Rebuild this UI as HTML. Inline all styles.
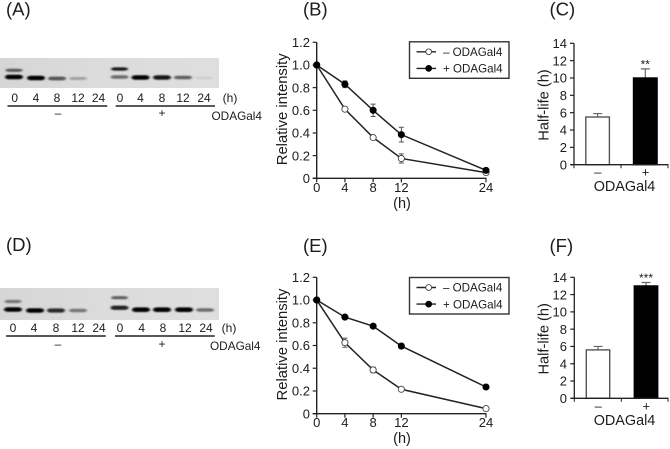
<!DOCTYPE html>
<html lang="en">
<head>
<meta charset="utf-8">
<title>ODAGal4 half-life figure</title>
<style>
html,body{margin:0;padding:0;background:#fff;width:670px;height:449px;overflow:hidden}
svg{display:block;position:absolute;left:0;top:0}
text{font-family:"Liberation Sans",Arial,sans-serif;fill:#1c1c1c}
</style>
</head>
<body>
<svg id="fig" xmlns="http://www.w3.org/2000/svg" width="670" height="449" viewBox="0 0 670 449">
<defs>
<filter id="bl" x="-30%" y="-150%" width="160%" height="400%"><feGaussianBlur stdDeviation="1.0 0.8"/></filter>
<linearGradient id="blotbg" x1="0" x2="1" y1="0" y2="0"><stop offset="0" stop-color="#d6d6d6"/><stop offset="0.5" stop-color="#dcdcdc"/><stop offset="1" stop-color="#dedede"/></linearGradient>
</defs>
</svg>
<script>
// ---- chart data ----
const hours = [0, 4, 8, 12, 24];
const intensityTicks = [0, 0.2, 0.4, 0.6, 0.8, 1.0, 1.2];
const halfLifeTicks = [0, 2, 4, 6, 8, 10, 12, 14];
const seriesLabels = ['– ODAGal4', '+ ODAGal4'];
const bMinus = [1, 0.61, 0.36, 0.175, 0.05];
const bMinusErr = [0, 0.015, 0.015, 0.04, 0.012];
const bPlus = [1, 0.83, 0.60, 0.385, 0.07];
const bPlusErr = [0, 0.03, 0.055, 0.065, 0.012];
const eMinus = [1, 0.625, 0.385, 0.215, 0.045];
const eMinusErr = [0, 0.04, 0.025, 0.01, 0.005];
const ePlus = [1, 0.85, 0.77, 0.595, 0.235];
const ePlusErr = [0, 0.01, 0.01, 0.01, 0.01];
const barCategories = ['–', '+'];
const cHalfLife = [5.5, 10];
const cHalfLifeErr = [0.4, 1.05];
const fHalfLife = [5.6, 13];
const fHalfLifeErr = [0.4, 0.4];
// blot band darkness per lane (0 = none, 1 = black)
const aUpperBand = [0.6, 0, 0, 0, 0, 0.9, 0, 0, 0, 0];
const aLowerBand = [1, 1, 0.6, 0.25, 0, 0.5, 1, 0.9, 0.55, 0.04];
const dUpperBand = [0.45, 0, 0, 0, 0, 0.55, 0, 0, 0, 0];
const dLowerBand = [1, 1, 0.8, 0.45, 0, 0.85, 1, 1, 1, 0.5];

const svg = document.getElementById('fig');
const NS = 'http://www.w3.org/2000/svg';
function el(tag, attrs, parent) {
  const n = document.createElementNS(NS, tag);
  for (const k in attrs) n.setAttribute(k, attrs[k]);
  (parent || svg).appendChild(n);
  return n;
}
function tx(str, x, y, size, anchor, parent) {
  const t = el('text', {x: x, y: y, 'font-size': size, 'text-anchor': anchor || 'middle'}, parent);
  t.textContent = str;
  return t;
}
function ln(x1, y1, x2, y2, w, col, parent) {
  return el('line', {x1: x1, y1: y1, x2: x2, y2: y2, stroke: col || '#222', 'stroke-width': w || 1.2}, parent);
}

function panelLabel(str, x, y) {
  const t = tx(str, x, y, 18.5, 'start');
  
  
}

function blot(opts) {
  const g = el('g', {});
  
  
  const bg = el('rect', {x: 0, y: opts.top, width: 219, height: opts.h, fill: 'url(#blotbg)'}, g);
  
  
  opts.lower.forEach(function (v, i) {
    const cx = opts.laneX[i];
    if (v > 0) {
      const c = Math.round(215 - 215 * v);
      const th = 2.4 + 2.2 * v;
      const b = el('rect', {x: cx - 9, y: opts.lowerY[i] - th / 2, width: 18, height: th, rx: 4, ry: th / 2, fill: 'rgb(' + c + ',' + c + ',' + c + ')', filter: 'url(#bl)'}, g);
      
      
    }
    const u = opts.upper[i];
    if (u > 0) {
      const c2 = Math.round(215 - 215 * u);
      const th2 = 3.2;
      const b2 = el('rect', {x: cx - 8.5, y: opts.upperY[i] - th2 / 2, width: 17, height: th2, rx: 4, ry: th2 / 2, fill: 'rgb(' + c2 + ',' + c2 + ',' + c2 + ')', filter: 'url(#bl)'}, g);
      
      
    }
    const lab = tx(String(hours[i % 5]), opts.labelX[i], opts.labelY, 12, 'middle', g);
    
    
  });
  const h = tx('(h)', opts.hX, opts.labelY, 12, 'middle', g);
  
  
  const l1 = ln(opts.line1[0], opts.lineY, opts.line1[1], opts.lineY, 1.5, '#222', g);
  
  
  const l2 = ln(opts.line2[0], opts.lineY, opts.line2[1], opts.lineY, 1.5, '#222', g);
  
  
  const m = tx('–', 58, opts.signY, 12, 'middle', g);
  
  
  const p = tx('+', 162, opts.signY, 12, 'middle', g);
  
  
  const o = tx('ODAGal4', opts.odaX, opts.odaY, 11.8, 'start', g);
  
  
}

function lineChart(o) {
  const g = el('g', {});
  
  
  const X = function (v) { return 316.7 + v * (486 - 316.7) / 24; };
  const Y = function (v) { return o.y0 + v * (o.y12 - o.y0) / 1.2; };
  const yAxis = ln(X(0), Y(1.2), X(0), o.y0, 1.4, '#222', g);
  
  
  const xAxis = ln(X(0) - 4, o.y0, X(24) + 0.5, o.y0, 1.4, '#222', g);
  
  
  intensityTicks.forEach(function (v) {
    const t = ln(X(0) - 4, Y(v), X(0), Y(v), 1.2, '#222', g);
    
    
    const s = tx(v === 0 ? '0' : v.toFixed(1), 310, Y(v) + 4.7, 13, 'end', g);
    
    
  });
  hours.forEach(function (v) {
    const t = ln(X(v), o.y0, X(v), o.y0 + 4, 1.2, '#222', g);
    
    
    const s = tx(String(v), X(v), o.y0 + 13.5, 13, 'middle', g);
    
    
  });
  const xt = tx('(h)', 402, o.y0 + 29.5, 14.5, 'middle', g);
  
  
  const ytY = Y(0.6) - 1;
  const yt = tx('Relative intensity', 287, ytY, 14.8, 'middle', g);
  yt.setAttribute('transform', 'rotate(-90 287 ' + ytY + ')');
  
  

  function series(vals, errs, fill, nm) {
    const sg = el('g', {}, g);
    
    
    const pts = vals.map(function (v, i) { return X(hours[i]) + ',' + Y(v); }).join(' ');
    const pl = el('polyline', {points: pts, fill: 'none', stroke: '#222', 'stroke-width': 1.5}, sg);
    
    
    vals.forEach(function (v, i) {
      const e = errs[i];
      if (e > 0) {
        const eb = el('path', {d: 'M' + (X(hours[i]) - 2.5) + ' ' + Y(v + e) + 'h5M' + X(hours[i]) + ' ' + Y(v + e) + 'V' + Y(v - e) + 'M' + (X(hours[i]) - 2.5) + ' ' + Y(v - e) + 'h5', stroke: '#555', 'stroke-width': 1, fill: 'none'}, sg);
        
        
      }
      const c = el('circle', {cx: X(hours[i]), cy: Y(v), r: 3.1, fill: fill, stroke: fill === '#000' ? '#000' : '#444', 'stroke-width': 0.9}, sg);
      
      
    });
  }
  series(o.minus, o.minusErr, '#fff', 'series-minus-odagal4');
  series(o.plus, o.plusErr, '#000', 'series-plus-odagal4');

  const lg = el('g', {}, g);
  
  
  const box = el('rect', {x: 409.5, y: o.legTop, width: 99.5, height: 36.5, fill: '#fff', stroke: '#333', 'stroke-width': 1.4}, lg);
  
  
  [0, 1].forEach(function (i) {
    const yy = o.legTop + 10 + i * 16.6;
    const ll = ln(416.5, yy, 436, yy, 1.4, '#222', lg);
    
    
    const lc = el('circle', {cx: 428.7, cy: yy, r: 2.9, fill: i ? '#000' : '#fff', stroke: i ? '#000' : '#444', 'stroke-width': 0.9}, lg);
    
    
    const lt = tx(seriesLabels[i], 443, yy + 4.2, 11.6, 'start', lg);
    
    
  });
}

function barChart(o) {
  const g = el('g', {});
  
  
  const Y = function (v) { return o.y0 + v * (o.y14 - o.y0) / 14; };
  const band = [o.bx[0] + o.bw / 2, o.bx[1] + o.bw / 2];
  o.vals.forEach(function (v, i) {
    const e = o.errs[i];
    const eb = el('path', {d: 'M' + band[i] + ' ' + Y(v) + 'V' + Y(v + e) + 'M' + (band[i] - 4.5) + ' ' + Y(v + e) + 'h9', stroke: '#666', 'stroke-width': 1.2, fill: 'none'}, g);
    
    
    const b = el('rect', {x: o.bx[i], y: Y(v), width: o.bw, height: o.y0 - Y(v), fill: i ? '#000' : '#fff', stroke: i ? '#000' : '#555', 'stroke-width': 1.4}, g);
    
    
    const s = tx(barCategories[i], band[i] + 0.3, o.y0 + 12, 13, 'middle', g);
    
    
  });
  const ya = ln(o.ax, o.y14, o.ax, o.y0, 1.3, '#222', g);
  
  
  const xa = ln(o.ax - 3, o.y0, 668.5, o.y0, 1.3, '#222', g);
  
  
  [o.ax, o.ax + 47, 668].forEach(function (x) {
    const t = ln(x, o.y0, x, o.y0 + 3.5, 1, '#222', g);
    
    
  });
  halfLifeTicks.forEach(function (v) {
    const t = ln(o.ax - 4, Y(v), o.ax, Y(v), 1.2, '#222', g);
    
    
    const s = tx(String(v), 567, Y(v) + 4.7, 13, 'end', g);
    
    
  });
  const ymid = (o.y0 + o.y14) / 2 + 1;
  const yt = tx('Half-life (h)', 548.5, ymid, 14.6, 'middle', g);
  yt.setAttribute('transform', 'rotate(-90 548.5 ' + ymid + ')');
  
  
  const xt = tx('ODAGal4', 624.5, o.y0 + 26.5, 14.4, 'middle', g);
  
  
  const st = tx(o.stars, band[1], Y(o.vals[1] + o.errs[1]) - 0.5, 12, 'middle', g);
  
  
}

panelLabel('(A)', 6, 15.5);
panelLabel('(B)', 303, 15.5);
panelLabel('(C)', 549.5, 15.5);
panelLabel('(D)', 6, 251);
panelLabel('(E)', 303, 252);
panelLabel('(F)', 549.5, 252);

blot({name: 'blot-a', top: 58, h: 30, upper: aUpperBand, lower: aLowerBand,
  laneX: [14, 36, 57, 78, 99, 119.5, 140.5, 162, 183, 204],
  upperY: [70.3, 78, 78, 78, 78, 69, 78, 78, 78, 78],
  lowerY: [77, 78, 78.5, 78.5, 78, 77, 77.5, 77.5, 77.5, 78],
  labelX: [14.7, 36, 57, 78, 98.5, 120, 140.5, 162, 183, 204],
  labelY: 102, hX: 230, line1: [7.5, 107.3], line2: [115.7, 215], lineY: 106, signY: 117, odaX: 211.5, odaY: 120});
blot({name: 'blot-d', top: 288, h: 32, upper: dUpperBand, lower: dLowerBand,
  laneX: [13, 35, 56, 78, 99, 119.5, 141, 162, 184, 205],
  upperY: [301.5, 309, 309, 309, 309, 297.7, 309, 309, 309, 309],
  lowerY: [309.5, 310.5, 310.5, 310.5, 310, 307.7, 309.7, 309.7, 309.7, 310],
  labelX: [13, 34, 56, 78, 99, 120, 141.7, 163, 185, 206],
  labelY: 332, hX: 229, line1: [6, 105.7], line2: [115, 214.7], lineY: 336, signY: 348, odaX: 210, odaY: 350});

lineChart({name: 'chart-b', y0: 178.3, y12: 42.3, legTop: 41.8, minus: bMinus, minusErr: bMinusErr, plus: bPlus, plusErr: bPlusErr});
lineChart({name: 'chart-e', y0: 413.7, y12: 277.3, legTop: 277.5, minus: eMinus, minusErr: eMinusErr, plus: ePlus, plusErr: ePlusErr});
barChart({name: 'chart-c', y0: 164.7, y14: 43.3, ax: 574, bx: [585.8, 633.5], bw: 23.6, vals: cHalfLife, errs: cHalfLifeErr, stars: '**'});
barChart({name: 'chart-f', y0: 398.3, y14: 277.3, ax: 574.3, bx: [586.3, 634.3], bw: 23.4, vals: fHalfLife, errs: fHalfLifeErr, stars: '***'});
</script>
</body>
</html>
